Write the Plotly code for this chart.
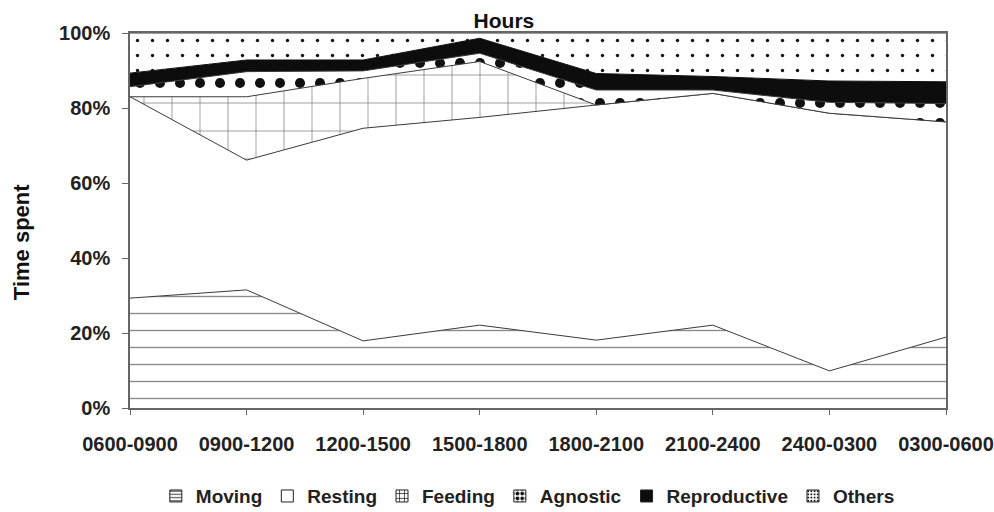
import plotly.graph_objects as go

hours = ["0600-0900", "0900-1200", "1200-1500", "1500-1800",
         "1800-2100", "2100-2400", "2400-0300", "0300-0600"]

moving       = [29.3, 31.5, 17.9, 22.1, 18.1, 22.1,  9.9, 18.9]
resting      = [53.7, 34.6, 56.7, 55.4, 62.7, 61.8, 68.7, 57.4]
feeding      = [ 0.0, 16.9, 13.3, 14.9,  0.0,  0.0,  0.0,  0.0]
agnostic     = [ 2.7,  6.7,  2.0,  2.2,  4.0,  0.9,  2.9,  4.9]
reproductive = [ 3.6,  3.1,  2.9,  4.0,  4.4,  3.6,  5.7,  5.8]
others       = [10.7,  7.2,  7.2,  1.4, 10.8, 11.6, 12.8, 13.0]

y_ticks = [0, 20, 40, 60, 80, 100]
y_tick_labels = ["0%", "20%", "40%", "60%", "80%", "100%"]

FONT = "Liberation Sans, Arial, sans-serif"
LINE = "#3a3a3a"

patterns = {
    "Moving": dict(shape="-", size=17, solidity=0.08, fgcolor="#8a8a8a", fgopacity=1, bgcolor="white"),
    "Resting": None,
    "Feeding": dict(shape="+", size=28, solidity=0.05, fgcolor="#777", fgopacity=1, bgcolor="white"),
    "Agnostic": dict(shape=".", size=20, solidity=0.2, fgcolor="#111", fgopacity=1, bgcolor="white"),
    "Reproductive": None,
    "Others": dict(shape=".", size=15, solidity=0.04, fgcolor="#111", fgopacity=1, bgcolor="white"),
}
legend_patterns = {
    "Moving": dict(shape="-", size=4, solidity=0.3, fgcolor="#222", fgopacity=1, bgcolor="white"),
    "Resting": None,
    "Feeding": dict(shape="+", size=6, solidity=0.3, fgcolor="#222", fgopacity=1, bgcolor="white"),
    "Agnostic": dict(shape=".", size=6, solidity=0.5, fgcolor="#111", fgopacity=1, bgcolor="white"),
    "Reproductive": None,
    "Others": dict(shape=".", size=4, solidity=0.3, fgcolor="#111", fgopacity=1, bgcolor="white"),
}

series = [("Moving", moving), ("Resting", resting), ("Feeding", feeding),
          ("Agnostic", agnostic), ("Reproductive", reproductive), ("Others", others)]

fig = go.Figure()
for name, vals in series:
    kw = {}
    black = name == "Reproductive"
    if patterns[name] is not None:
        kw["fillpattern"] = patterns[name]
    fig.add_trace(go.Scatter(
        x=hours, y=vals, name=name, mode="lines", legendgroup=name,
        stackgroup="one", fillcolor="#0d0d0d" if black else "white",
        line=dict(color="#0d0d0d" if black else LINE, width=1),
        showlegend=False, hoverinfo="x+y+name", **kw))

# legend-only entries (square swatches)
for name, vals in series:
    black = name == "Reproductive"
    mk = dict(color="#0d0d0d" if black else "white", line=dict(color="#222", width=1))
    if legend_patterns[name] is not None:
        mk["pattern"] = legend_patterns[name]
    fig.add_trace(go.Bar(x=[None], y=[None], name=name, legendgroup=name,
                         marker=mk, showlegend=True, hoverinfo="skip"))

fig.update_layout(
    width=994, height=512,
    margin=dict(l=130, r=48, t=33, b=104),
    paper_bgcolor="white", plot_bgcolor="white",
    font=dict(family=FONT, color="#222"),
    title=dict(text="Hours", xref="container", x=0.507, xanchor="center",
               yref="container", y=0.959, yanchor="middle",
               font=dict(size=21, family=FONT, color="#111", weight="bold")),
    showlegend=True,
    legend=dict(orientation="h", xref="container", x=0.531, xanchor="center",
                yref="container", y=0.031, yanchor="middle",
                bgcolor="rgba(0,0,0,0)",
                font=dict(size=19, family=FONT, color="#222", weight="bold"),
                itemwidth=30, traceorder="normal", tracegroupgap=0),
)

fig.update_xaxes(
    type="category", range=[0, 7], showgrid=False, automargin=False,
    showline=True, linecolor="#666", linewidth=1.5, mirror=True,
    ticks="outside", ticklen=5, tickcolor="#666",
    tickfont=dict(size=20, family=FONT, color="#222", weight="bold"),
    ticklabelstandoff=12,
)
fig.update_yaxes(
    range=[0, 100], tickvals=y_ticks, ticktext=y_tick_labels, showgrid=False,
    automargin=False,
    showline=True, linecolor="#666", linewidth=1.5, mirror=True,
    ticks="outside", ticklen=6, tickcolor="#666",
    tickfont=dict(size=20, family=FONT, color="#222", weight="bold"),
    ticklabelstandoff=8, zeroline=False,
)

fig.add_annotation(text="Time spent", xref="paper", yref="paper",
                   x=-0.132, y=0.443, xanchor="center", yanchor="middle",
                   textangle=-90, showarrow=False,
                   font=dict(size=22, family=FONT, color="#111", weight="bold"))

fig.write_html(
    "out.html",
    config={"displayModeBar": False},
    post_script=("document.body.style.margin='0';"
                 "document.body.style.overflow='hidden';"
                 "document.documentElement.style.overflow='hidden';"),
)
